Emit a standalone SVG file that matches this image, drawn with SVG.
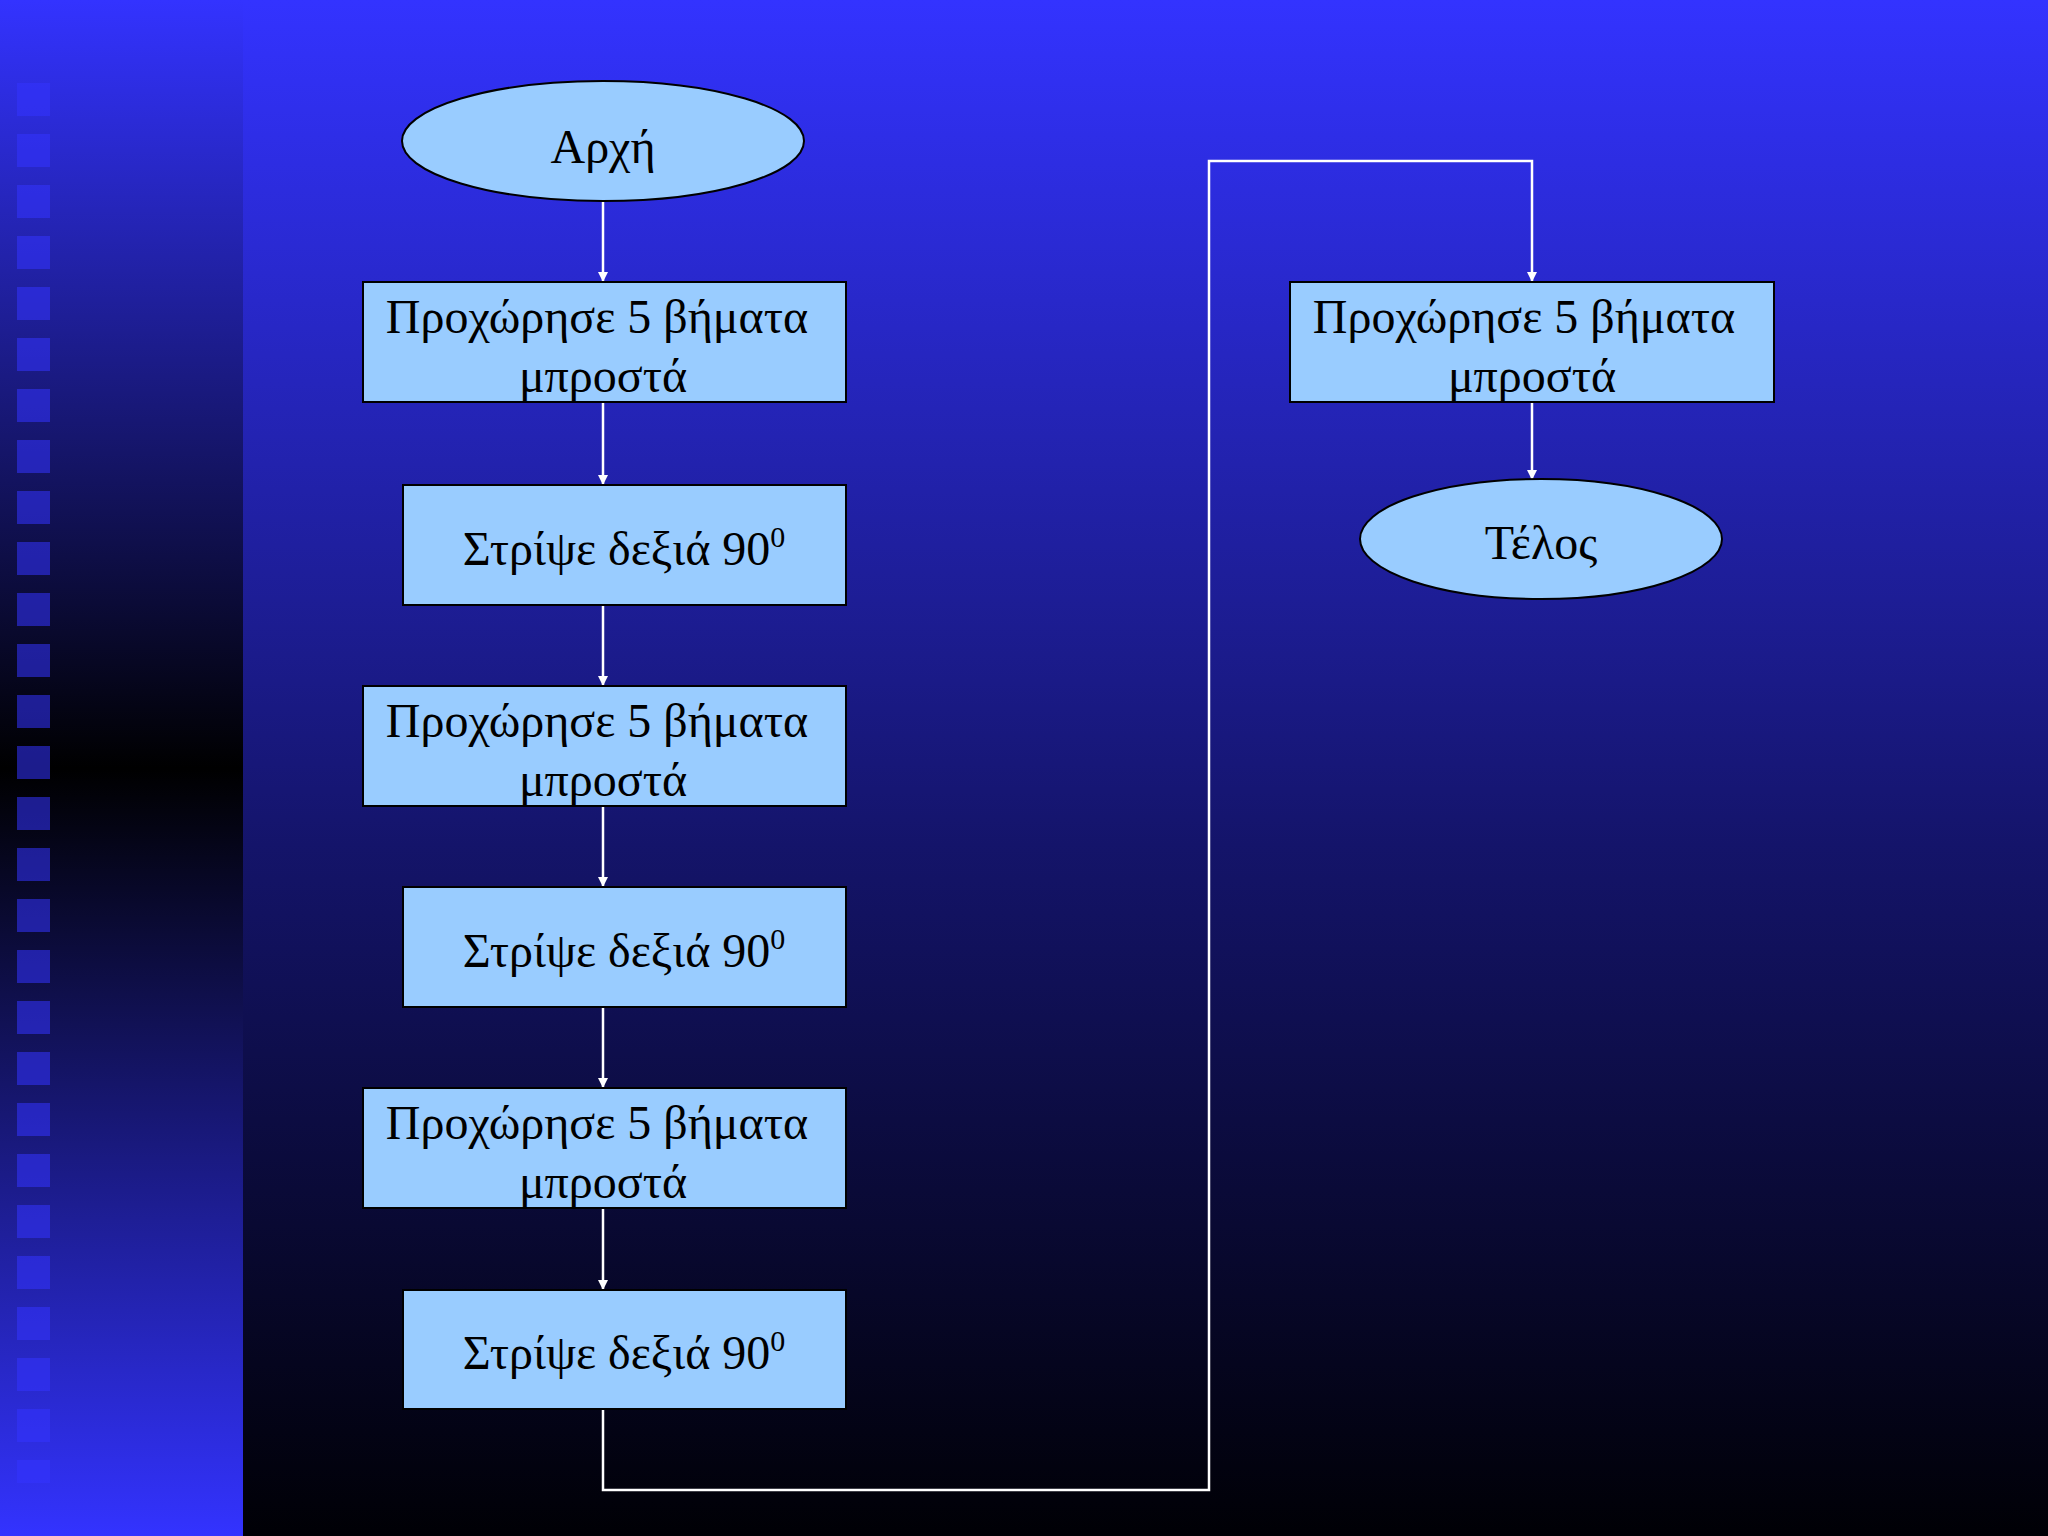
<svg xmlns="http://www.w3.org/2000/svg" width="2048" height="1536" viewBox="0 0 2048 1536">
<defs>
<linearGradient id="bg" x1="0" y1="0" x2="0" y2="1"><stop offset="0" stop-color="#3333ff"/><stop offset="0.55" stop-color="#14146a"/><stop offset="1" stop-color="#000005"/></linearGradient>
<linearGradient id="strip" x1="0" y1="0" x2="0" y2="1"><stop offset="0" stop-color="#3333ff"/><stop offset="0.5" stop-color="#000000"/><stop offset="1" stop-color="#3333ff"/></linearGradient>
<marker id="ah" markerWidth="10" markerHeight="10" refX="9" refY="5" orient="auto" markerUnits="userSpaceOnUse" viewBox="0 0 10 10"><path d="M0,0 L10,5 L0,10 z" fill="#fff"/></marker>
<pattern id="sq" x="17" y="83" width="40" height="51" patternUnits="userSpaceOnUse"><rect width="33" height="33" fill="#3333ff" fill-opacity="0.55"/></pattern>
</defs>
<style>
.n{fill:#99ccff;stroke:#000;stroke-width:2}
.t{font-family:"Liberation Serif","Times New Roman",serif;font-size:48px;fill:#000;text-anchor:middle}
.c{stroke:#fff;stroke-width:2.5;fill:none}
</style>
<rect width="2048" height="1536" fill="url(#bg)"/>
<rect width="243" height="1536" fill="url(#strip)"/>
<rect x="17" y="83" width="34" height="1400" fill="url(#sq)"/>
<g id="connectors">
<line class="c" x1="603" y1="201" x2="603" y2="281" marker-end="url(#ah)"/>
<line class="c" x1="603" y1="402" x2="603" y2="484" marker-end="url(#ah)"/>
<line class="c" x1="603" y1="605" x2="603" y2="685" marker-end="url(#ah)"/>
<line class="c" x1="603" y1="806" x2="603" y2="886" marker-end="url(#ah)"/>
<line class="c" x1="603" y1="1007" x2="603" y2="1087" marker-end="url(#ah)"/>
<line class="c" x1="603" y1="1208" x2="603" y2="1289" marker-end="url(#ah)"/>
<polyline class="c" points="603,1409 603,1490 1209,1490 1209,161 1532,161 1532,281" marker-end="url(#ah)"/>
<line class="c" x1="1532" y1="402" x2="1532" y2="479" marker-end="url(#ah)"/>
</g>
<g id="start"><ellipse class="n" cx="603" cy="141" rx="201" ry="60"/><text class="t" x="603" y="163">Αρχή</text></g>
<g id="step1"><rect class="n" x="363" y="282" width="483" height="120"/><text class="t" x="597" y="333">Προχώρησε 5 βήματα</text><text class="t" x="603" y="392">μπροστά</text></g>
<g id="step2"><rect class="n" x="403" y="485" width="443" height="120"/><text class="t" x="624" y="565">Στρίψε δεξιά 90<tspan font-size="30" dy="-18">0</tspan></text></g>
<g id="step3"><rect class="n" x="363" y="686" width="483" height="120"/><text class="t" x="597" y="737">Προχώρησε 5 βήματα</text><text class="t" x="603" y="796">μπροστά</text></g>
<g id="step4"><rect class="n" x="403" y="887" width="443" height="120"/><text class="t" x="624" y="967">Στρίψε δεξιά 90<tspan font-size="30" dy="-18">0</tspan></text></g>
<g id="step5"><rect class="n" x="363" y="1088" width="483" height="120"/><text class="t" x="597" y="1139">Προχώρησε 5 βήματα</text><text class="t" x="603" y="1198">μπροστά</text></g>
<g id="step6"><rect class="n" x="403" y="1290" width="443" height="119"/><text class="t" x="624" y="1369">Στρίψε δεξιά 90<tspan font-size="30" dy="-18">0</tspan></text></g>
<g id="step7"><rect class="n" x="1290" y="282" width="484" height="120"/><text class="t" x="1524" y="333">Προχώρησε 5 βήματα</text><text class="t" x="1532" y="392">μπροστά</text></g>
<g id="end"><ellipse class="n" cx="1541" cy="539" rx="181" ry="60"/><text class="t" x="1541" y="559">Τέλος</text></g>
</svg>
